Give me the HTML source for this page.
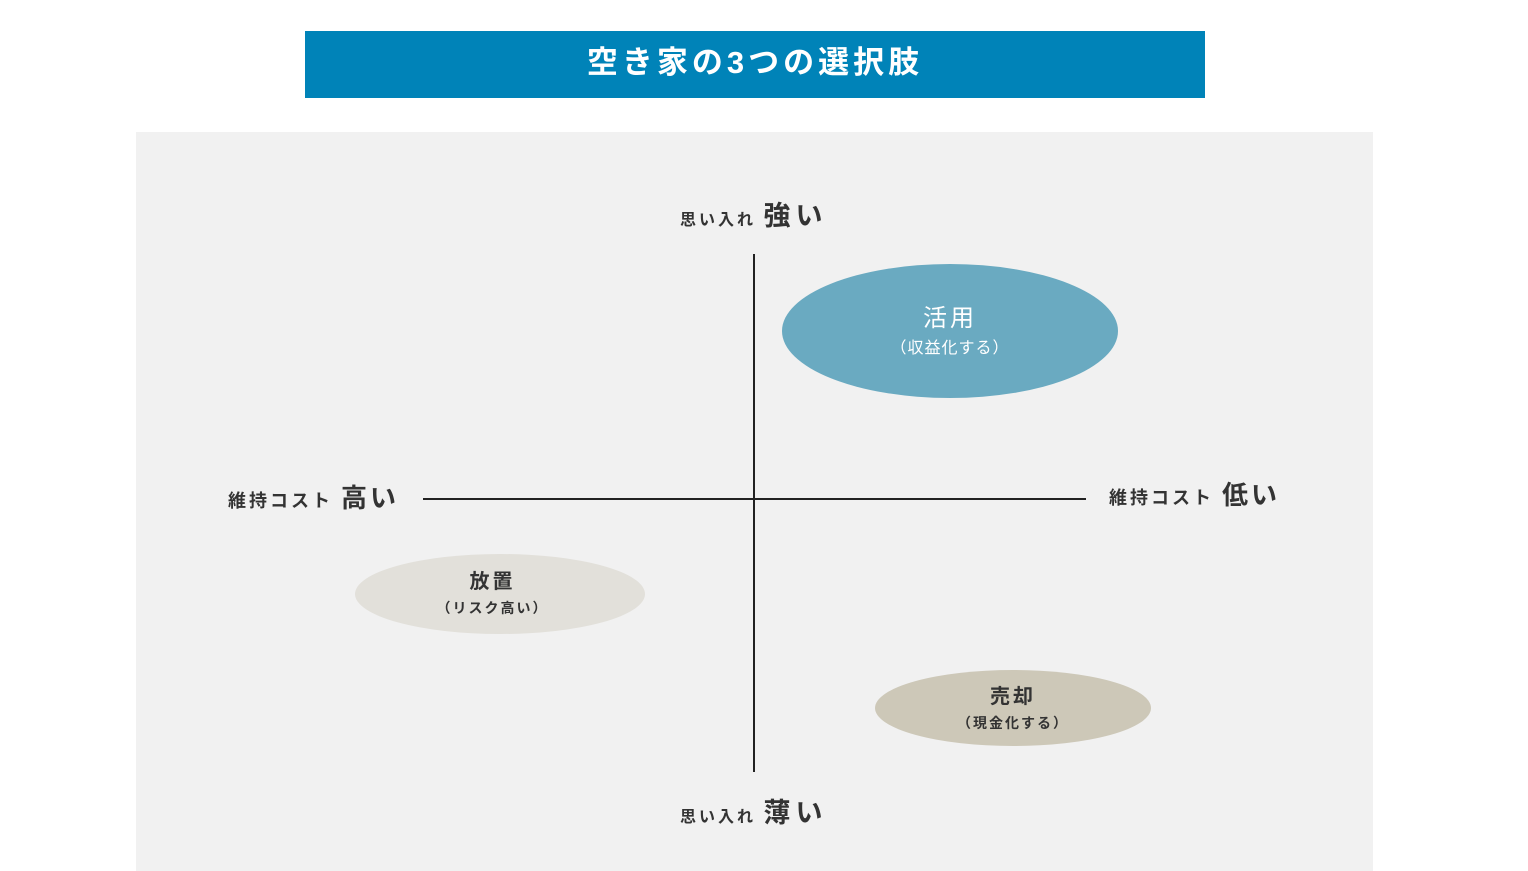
<!DOCTYPE html>
<html><head><meta charset="utf-8"><style>
body{margin:0;width:1528px;height:871px;background:#fff;position:relative;overflow:hidden;font-family:"Liberation Sans","Noto Sans CJK JP",sans-serif;}
.t{position:absolute;white-space:nowrap;color:#333;font-weight:bold;letter-spacing:3px;}
</style></head><body>
<div style="position:absolute;left:305px;top:31px;width:900px;height:67px;background:#0083b8;color:#fff;font-size:31px;font-weight:bold;text-align:center;line-height:64px;letter-spacing:4px">空き家の3つの選択肢</div>
<div style="position:absolute;left:136px;top:132px;width:1237px;height:739px;background:#f1f1f1"></div>
<svg style="position:absolute;left:0;top:0" width="1528" height="871">
<line x1="754" y1="254" x2="754" y2="772" stroke="#222" stroke-width="2"/>
<line x1="423" y1="499" x2="1086" y2="499" stroke="#222" stroke-width="2"/>
<ellipse cx="950" cy="331" rx="168" ry="67" fill="#6aaac1"/>
<ellipse cx="500" cy="594" rx="145" ry="40" fill="#e2e0da"/>
<ellipse cx="1013" cy="708" rx="138" ry="38" fill="#cdc8b8"/>
</svg>
<div class="t" style="left:680px;top:194px;font-size:16px">思い入れ <span style="font-size:27px;letter-spacing:5px">強い</span></div>
<div class="t" style="left:680px;top:791px;font-size:16px">思い入れ <span style="font-size:27px;letter-spacing:5px">薄い</span></div>
<div class="t" style="left:228px;top:478px;font-size:18px">維持コスト <span style="font-size:26px">高い</span></div>
<div class="t" style="left:1109px;top:475px;font-size:18px">維持コスト <span style="font-size:26px">低い</span></div>
<div class="t" style="left:850px;top:298px;width:200px;text-align:center;color:#fff;font-size:24px;font-weight:normal">活用</div>
<div class="t" style="left:850px;top:334px;width:200px;text-align:center;color:#fff;font-size:16px;font-weight:normal;letter-spacing:1px">（収益化する）</div>
<div class="t" style="left:400px;top:565px;width:185px;text-align:center;font-size:20px">放置</div>
<div class="t" style="left:400px;top:598px;width:185px;text-align:center;font-size:14px;letter-spacing:2px">（リスク高い）</div>
<div class="t" style="left:913px;top:680px;width:200px;text-align:center;font-size:20px">売却</div>
<div class="t" style="left:913px;top:713px;width:200px;text-align:center;font-size:14px;letter-spacing:2px">（現金化する）</div>
</body></html>
